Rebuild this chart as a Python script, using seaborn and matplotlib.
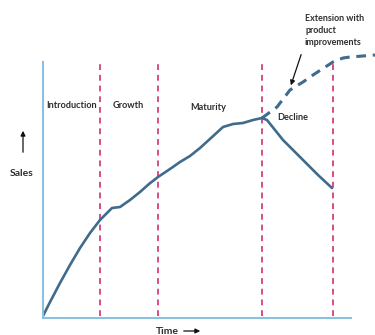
import numpy as np
import pandas as pd
import matplotlib
matplotlib.use("Agg")
import matplotlib.pyplot as plt
import seaborn as sns

# product life cycle curve (time units = pixels from origin)
growth_time = [0, 6, 17, 27, 37, 47, 57, 63, 69, 77, 87, 97, 106, 115, 127, 137, 147, 157, 168, 180, 190, 200, 210, 219]
growth_sales = [2, 14, 35, 53, 70, 85, 98, 104, 110, 111, 118, 126, 134, 141, 149, 156, 162, 170, 180, 191, 194, 195, 198, 200]
decline_time = [219, 224, 240, 260, 275, 289]
decline_sales = [200, 198, 178, 158, 143, 130]
ext_time = [219, 234, 247, 260, 270, 290, 300, 307, 320, 332]
ext_sales = [200, 211, 228, 236, 243, 256, 260, 261, 262, 263]

stage_bounds = [57, 115, 219, 290]
stage_labels = ["Introduction", "Growth", "Maturity", "Decline"]
stage_label_x = [29, 85, 165, 250]
stage_label_y = [212, 212, 211, 200]

sns.set_style("white")
plt.rcParams["font.family"] = ["Lato", "DejaVu Sans"]

CURVE = "#3f6b8c"
PINK = "#d84d86"
AXIS = "#8cc0e0"
TXT = "#2e2e2e"

fig = plt.figure(figsize=(3.75, 3.35), dpi=100)
ax = fig.add_axes([43 / 375, 17 / 335, 332 / 375, 318 / 335])
ax.set_xlim(0, 332)
ax.set_ylim(0, 318)

for b in stage_bounds:
    ax.plot([b, b], [2, 256], color=PINK, lw=1.4, ls=(0, (3, 2.5)), zorder=1)

df_g = pd.DataFrame({"t": growth_time, "s": growth_sales})
df_d = pd.DataFrame({"t": decline_time, "s": decline_sales})
df_e = pd.DataFrame({"t": ext_time, "s": ext_sales})
sns.lineplot(data=df_g, x="t", y="s", color=CURVE, lw=1.9, ax=ax, sort=False)
sns.lineplot(data=df_d, x="t", y="s", color=CURVE, lw=1.9, ax=ax, sort=False)
sns.lineplot(data=df_e, x="t", y="s", color=CURVE, lw=2.2, ax=ax, sort=False,
             linestyle=(0, (3.2, 2.2)))

for lab, x, y in zip(stage_labels, stage_label_x, stage_label_y):
    ax.text(x, y, lab, ha="center", va="center", fontsize=6.6, color=TXT, fontweight="bold")

ax.text(262, 304, "Extension with\nproduct\nimprovements", ha="left", va="top",
        fontsize=6.4, color=TXT, fontweight="bold", linespacing=1.45)
ax.annotate("", xy=(247, 230), xytext=(259, 266),
            arrowprops=dict(arrowstyle="-|>", color="#111111", lw=0.9, mutation_scale=7))

ax.set_xlabel("")
ax.set_ylabel("")
ax.set_xticks([])
ax.set_yticks([])
for sp in ["top", "right"]:
    ax.spines[sp].set_visible(False)
ax.spines["left"].set_color(AXIS)
ax.spines["bottom"].set_color(AXIS)
ax.spines["left"].set_linewidth(1.5)
ax.spines["bottom"].set_linewidth(1.5)
ax.spines["left"].set_bounds(0, 256)
ax.spines["bottom"].set_bounds(0, 308)

# axis titles with arrows, placed in figure pixels
fig.text(22 / 375, 1 - 173 / 335, "Sales", ha="center", va="center", fontsize=7.5,
         color=TXT, fontweight="bold")
fig.patches.append(matplotlib.patches.FancyArrowPatch(
    (23 / 375, 1 - 155 / 335), (23 / 375, 1 - 128 / 335), transform=fig.transFigure,
    arrowstyle="-|>", mutation_scale=7, color="#111111", lw=0.9))
fig.text(167 / 375, 1 - 331 / 335, "Time", ha="center", va="center", fontsize=7.5,
         color=TXT, fontweight="bold")
fig.patches.append(matplotlib.patches.FancyArrowPatch(
    (181 / 375, 1 - 331 / 335), (203 / 375, 1 - 331 / 335), transform=fig.transFigure,
    arrowstyle="-|>", mutation_scale=7, color="#111111", lw=0.9))

fig.savefig("out.png", dpi=100)
